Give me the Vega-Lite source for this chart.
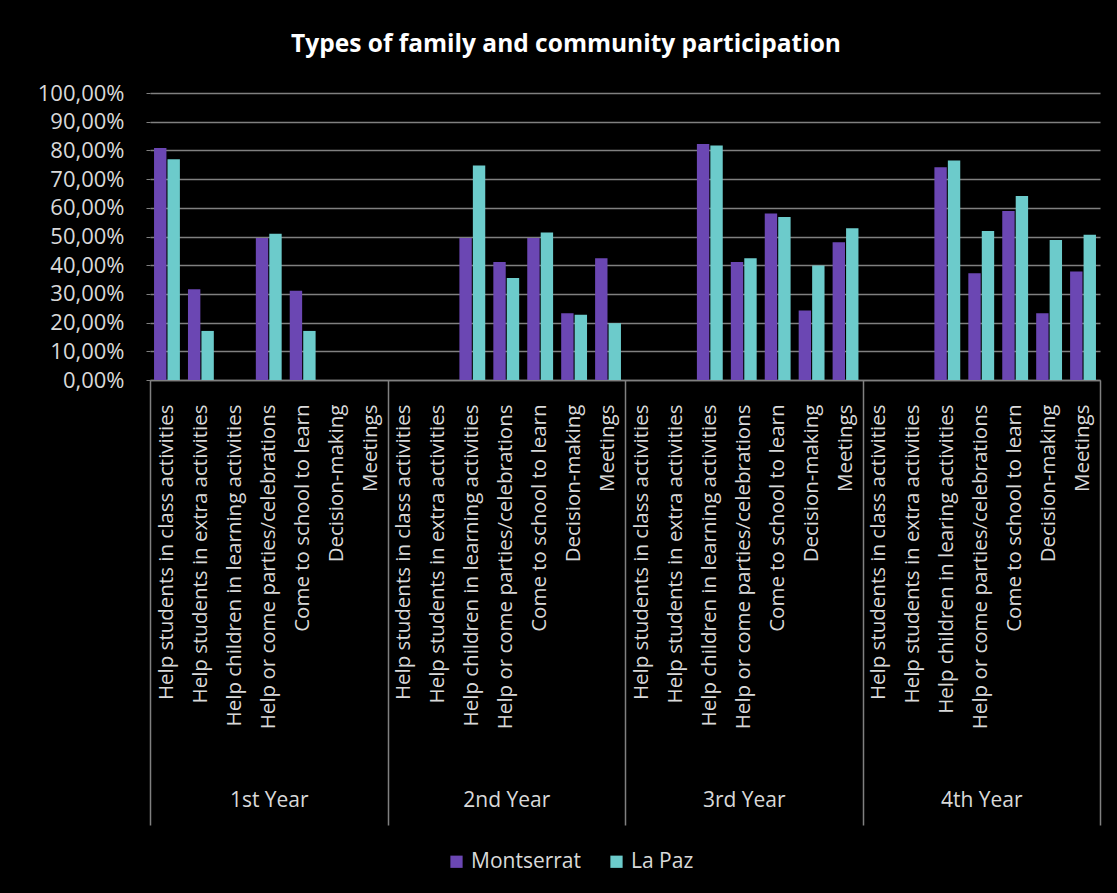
{
  "$schema": "https://vega.github.io/schema/vega-lite/v6.json",
  "width": 950,
  "height": 287,
  "autosize": {"type": "none"},
  "padding": {"left": 150, "top": 93, "right": 17, "bottom": 513},
  "background": "#000000",
  "title": {
    "text": "Types of family and community participation",
    "color": "#ffffff",
    "font": "Open Sans",
    "fontSize": 24.5,
    "fontWeight": "bold",
    "anchor": "middle",
    "offset": 25,
    "dx": -59
  },
  "config": {
    "view": {"stroke": null},
    "font": "Open Sans"
  },
  "data": {
    "values": [
      {"cat": "1st Year|Help students in class activities", "series": "Montserrat", "pct": 80.8},
      {"cat": "1st Year|Help students in class activities", "series": "La Paz", "pct": 76.9},
      {"cat": "1st Year|Help students in extra  activities", "series": "Montserrat", "pct": 31.6},
      {"cat": "1st Year|Help students in extra  activities", "series": "La Paz", "pct": 17.1},
      {"cat": "1st Year|Help or come parties/celebrations", "series": "Montserrat", "pct": 49.5},
      {"cat": "1st Year|Help or come parties/celebrations", "series": "La Paz", "pct": 51.0},
      {"cat": "1st Year|Come to school to learn", "series": "Montserrat", "pct": 31.1},
      {"cat": "1st Year|Come to school to learn", "series": "La Paz", "pct": 17.1},
      {"cat": "2nd Year|Help children in learning activities", "series": "Montserrat", "pct": 49.5},
      {"cat": "2nd Year|Help children in learning activities", "series": "La Paz", "pct": 74.7},
      {"cat": "2nd Year|Help or come parties/celebrations", "series": "Montserrat", "pct": 41.1},
      {"cat": "2nd Year|Help or come parties/celebrations", "series": "La Paz", "pct": 35.5},
      {"cat": "2nd Year|Come to school to learn", "series": "Montserrat", "pct": 49.5},
      {"cat": "2nd Year|Come to school to learn", "series": "La Paz", "pct": 51.4},
      {"cat": "2nd Year|Decision-making", "series": "Montserrat", "pct": 23.3},
      {"cat": "2nd Year|Decision-making", "series": "La Paz", "pct": 22.7},
      {"cat": "2nd Year|Meetings", "series": "Montserrat", "pct": 42.4},
      {"cat": "2nd Year|Meetings", "series": "La Paz", "pct": 19.8},
      {"cat": "3rd Year|Help children in learning activities", "series": "Montserrat", "pct": 82.2},
      {"cat": "3rd Year|Help children in learning activities", "series": "La Paz", "pct": 81.7},
      {"cat": "3rd Year|Help or come parties/celebrations", "series": "Montserrat", "pct": 41.1},
      {"cat": "3rd Year|Help or come parties/celebrations", "series": "La Paz", "pct": 42.4},
      {"cat": "3rd Year|Come to school to learn", "series": "Montserrat", "pct": 58.0},
      {"cat": "3rd Year|Come to school to learn", "series": "La Paz", "pct": 56.8},
      {"cat": "3rd Year|Decision-making", "series": "Montserrat", "pct": 24.2},
      {"cat": "3rd Year|Decision-making", "series": "La Paz", "pct": 39.9},
      {"cat": "3rd Year|Meetings", "series": "Montserrat", "pct": 48.0},
      {"cat": "3rd Year|Meetings", "series": "La Paz", "pct": 52.9},
      {"cat": "4th Year|Help children in learing activities", "series": "Montserrat", "pct": 74.1},
      {"cat": "4th Year|Help children in learing activities", "series": "La Paz", "pct": 76.5},
      {"cat": "4th Year|Help or come parties/celebrations", "series": "Montserrat", "pct": 37.2},
      {"cat": "4th Year|Help or come parties/celebrations", "series": "La Paz", "pct": 51.9},
      {"cat": "4th Year|Come to school to learn", "series": "Montserrat", "pct": 58.9},
      {"cat": "4th Year|Come to school to learn", "series": "La Paz", "pct": 64.1},
      {"cat": "4th Year|Decision-making", "series": "Montserrat", "pct": 23.3},
      {"cat": "4th Year|Decision-making", "series": "La Paz", "pct": 48.8},
      {"cat": "4th Year|Meetings", "series": "Montserrat", "pct": 37.8},
      {"cat": "4th Year|Meetings", "series": "La Paz", "pct": 50.6}
    ]
  },
  "layer": [
    {
      "mark": {"type": "bar"},
      "encoding": {
        "x": {
          "field": "cat",
          "type": "nominal",
          "sort": null,
          "scale": {
            "domain": [
              "1st Year|Help students in class activities",
              "1st Year|Help students in extra  activities",
              "1st Year|Help children in learning activities",
              "1st Year|Help or come parties/celebrations",
              "1st Year|Come to school to learn",
              "1st Year|Decision-making",
              "1st Year|Meetings",
              "2nd Year|Help students in class activities",
              "2nd Year|Help students in extra  activities",
              "2nd Year|Help children in learning activities",
              "2nd Year|Help or come parties/celebrations",
              "2nd Year|Come to school to learn",
              "2nd Year|Decision-making",
              "2nd Year|Meetings",
              "3rd Year|Help students in class activities",
              "3rd Year|Help students in extra  activities",
              "3rd Year|Help children in learning activities",
              "3rd Year|Help or come parties/celebrations",
              "3rd Year|Come to school to learn",
              "3rd Year|Decision-making",
              "3rd Year|Meetings",
              "4th Year|Help students in class activities",
              "4th Year|Help students in extra  activities",
              "4th Year|Help children in learing activities",
              "4th Year|Help or come parties/celebrations",
              "4th Year|Come to school to learn",
              "4th Year|Decision-making",
              "4th Year|Meetings"
            ],
            "paddingInner": 0,
            "paddingOuter": 0
          },
          "axis": {
            "orient": "bottom",
            "title": null,
            "labelAngle": -90,
            "labelExpr": "split(datum.value, '|')[1]",
            "labelColor": "#d9d9d9",
            "labelFont": "Open Sans",
            "labelFontSize": 20.5,
            "labelPadding": 24,
            "labelLimit": 500,
            "labelOverlap": false,
            "ticks": false,
            "domain": true,
            "domainColor": "#808080",
            "domainWidth": 1.5,
            "grid": false
          }
        },
        "xOffset": {
          "field": "series",
          "type": "nominal",
          "sort": ["Montserrat", "La Paz"],
          "scale": {"paddingInner": 0.08, "paddingOuter": 0.3}
        },
        "y": {
          "field": "pct",
          "type": "quantitative",
          "scale": {"domain": [0, 100]},
          "axis": {
            "title": null,
            "values": [0, 10, 20, 30, 40, 50, 60, 70, 80, 90, 100],
            "labelExpr": "replace(format(datum.value, '.2f'), '.', ',') + '%'",
            "grid": true,
            "gridColor": "#808080",
            "gridWidth": 1.5,
            "domain": false,
            "ticks": true,
            "tickSize": 4,
            "tickColor": "#808080",
            "labelPadding": 22,
            "labelColor": "#d9d9d9",
            "labelFont": "Open Sans",
            "labelFontSize": 22
          }
        },
        "color": {
          "field": "series",
          "type": "nominal",
          "sort": ["Montserrat", "La Paz"],
          "scale": {"range": ["#6B47B3", "#6CCBCB"]},
          "legend": {
            "title": null,
            "orient": "none",
            "legendX": 296,
            "legendY": 758,
            "direction": "horizontal",
            "symbolType": "square",
            "symbolSize": 150,
            "symbolStrokeWidth": 0,
            "labelColor": "#d9d9d9",
            "labelFont": "Open Sans",
            "labelFontSize": 21,
            "columnPadding": 24
          }
        }
      }
    },
    {
      "mark": {"type": "bar", "opacity": 0},
      "encoding": {
        "x": {
          "field": "cat",
          "type": "nominal",
          "sort": null,
          "axis": {
            "orient": "bottom",
            "title": null,
            "domain": false,
            "ticks": true,
            "tickBand": "extent",
            "tickSize": 445,
            "tickColor": "#808080",
            "tickWidth": 1.5,
            "tickOpacity": {
              "condition": {"test": "datum.extra || indexof('' + datum.value, 'Meetings') >= 0", "value": 1},
              "value": 0
            },
            "labelAngle": 0,
            "labelAlign": "center",
            "labelExpr": "indexof('' + datum.value, 'parties') >= 0 ? split(datum.value, '|')[0] : ''",
            "labelPadding": -36,
            "labelColor": "#d9d9d9",
            "labelFont": "Open Sans",
            "labelFontSize": 21,
            "labelOverlap": false,
            "grid": false
          }
        }
      }
    }
  ],
  "resolve": {"axis": {"x": "independent"}}
}
